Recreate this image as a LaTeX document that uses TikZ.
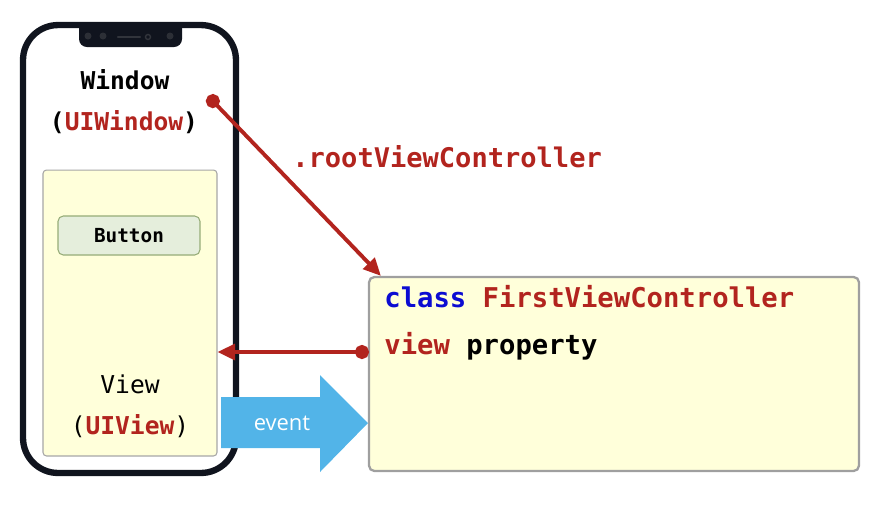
\documentclass[tikz,border=0pt]{standalone}
\usepackage{fontspec}
\setmonofont{DejaVu Sans Mono}
\newfontfamily\evfont{Open Sans}
\usetikzlibrary{arrows.meta,positioning,calc}
\definecolor{codered}{RGB}{178,36,30}
\definecolor{codeblue}{RGB}{12,12,210}
\definecolor{phoneblk}{RGB}{16,20,30}
\definecolor{viewfill}{RGB}{255,255,218}
\definecolor{btnfill}{RGB}{229,238,220}
\definecolor{btnline}{RGB}{150,172,120}
\definecolor{evblue}{RGB}{82,180,232}
\newcommand{\fs}[1]{\fontsize{#1}{#1}\selectfont}
\newcommand{\kw}[1]{\textcolor{codered}{#1}}
\tikzset{
  phone/.style={draw=phoneblk, line width=3.6pt, fill=white, rounded corners=0.7cm,
                minimum width=4.26cm, minimum height=8.96cm, inner sep=0pt},
  vbox/.style={draw=gray!70, fill=viewfill, rounded corners=2pt, line width=0.6pt,
               minimum width=3.48cm, minimum height=5.72cm},
  btn/.style={draw=btnline, fill=btnfill, rounded corners=3pt, line width=0.6pt,
              minimum width=2.84cm, minimum height=0.78cm, font=\fs{11}\ttfamily\bfseries},
  cbox/.style={draw=gray!75, fill=viewfill, line width=1.3pt, rounded corners=3pt,
               minimum width=9.8cm, minimum height=3.88cm},
  code/.style={font=\fs{15.5}\ttfamily\bfseries, anchor=west, inner sep=0pt},
  lbl/.style={font=\fs{14}\ttfamily, inner sep=0pt},
  refarr/.style={codered, line width=2.2pt, {Circle[length=8pt]}-{Triangle[length=10pt, width=9pt]}},
  evlbl/.style={font=\evfont\fs{12.5}, text=white, inner sep=0pt},
}

\begin{document}
\begin{tikzpicture}[x=0.02cm, y=-0.02cm]
  \useasboundingbox (0,0) rectangle (888,508);
  % phone
  \node[phone] (phone) at (129.5,249) {};
  \fill[phoneblk] (79,24) {[rounded corners=0.16cm] -- (79,47) -- (182,47)} -- (182,24) -- cycle;
  \foreach \dx in {88,103,170} \fill[gray!25!phoneblk] (\dx,36) circle (0.07cm);
  \draw[gray!30!phoneblk, line width=1.2pt, line cap=round] (118,37) -- (140,37);
  \draw[gray!30!phoneblk, line width=0.8pt] (148,37) circle (0.05cm);
  \node[lbl, font=\fs{14}\ttfamily\bfseries] (win) at (125,80) {Window};
  \node[lbl, font=\fs{14}\ttfamily\bfseries] (winty) at (124,122) {(\kw{UIWindow})};
  % view
  \node[vbox] (view) at (130,313) {};
  \node[btn] (btn) at (129,235.5) {Button};
  \node[lbl] (viewlbl) at (130,384) {View};
  \node[lbl] (viewty) at (130,426) {(\textbf{\kw{UIView}})};
  % controller
  \node[cbox] (ctrl) at (614,374) {};
  \node[code] (cls) at (384,297) {\textcolor{codeblue}{class} \kw{FirstViewController}};
  \node[code] (prop) at (384,346) {\kw{view} property};
  \node[code, text=codered, font=\fs{15.4}\ttfamily\bfseries] (root) at (292,157) {.rootViewController};
  % event
  \fill[evblue] (221,397) -- (320,397) -- (320,375) -- (368,423) -- (320,472) -- (320,448) -- (221,448) -- cycle;
  \node[evlbl] (evt) at (282,423) {event};
  % references
  \coordinate (windot) at (208,96);
  \coordinate (propdot) at (369,352);
  \draw[refarr] (windot) -- ($(ctrl.north west)+(13,0)$);
  \draw[refarr] (propdot) -- (view.east |- propdot);
\end{tikzpicture}
\end{document}
